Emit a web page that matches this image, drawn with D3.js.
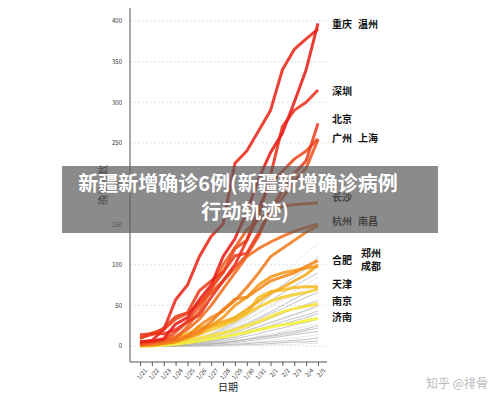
<!DOCTYPE html><html><head><meta charset="utf-8"><script src="https://cdn.jsdelivr.net/npm/d3@7"></script>
<style>body{margin:0;background:#fff}text{font-family:"Noto Sans CJK SC",sans-serif}</style></head><body><svg id="c" width="500" height="401"></svg><script>
const dates=["1/21","1/22","1/23","1/24","1/25","1/26","1/27","1/28","1/29","1/30","1/31","2/1","2/2","2/3","2/4","2/5"];
const yTicks=[0,50,100,150,200,250,300,350,400];
const colored=[
[5,6,9,27,35,57,75,110,132,165,206,238,262,300,340,397],
[5,7,20,57,75,110,135,150,225,240,265,290,340,365,378,390],
[14,15,15,20,30,38,60,80,100,130,160,210,270,290,300,315],
[10,14,22,36,41,68,80,91,111,114,139,168,191,212,228,274],
[3,5,8,17,30,50,71,90,120,130,170,200,215,230,240,255],
[9,16,20,33,40,53,66,80,96,112,135,169,182,203,219,254],
[1,4,6,9,24,43,69,100,121,143,156,166,172,174,175,176],
[2,4,6,12,20,33,50,70,90,110,120,128,135,141,146,150],
[2,3,4,7,12,18,30,45,56,72,90,110,120,130,140,148],
[1,1,3,6,12,25,35,43,58,60,70,80,85,90,98,105],
[1,2,3,5,10,15,25,35,50,60,75,85,90,93,96,98],
[3,5,8,10,15,20,25,30,35,45,55,65,72,80,88,100],
[1,3,5,10,14,23,24,27,31,40,60,67,69,72,73,73],
[0,1,3,5,9,15,20,25,35,40,48,55,60,63,66,70],
[0,1,2,4,6,10,13,16,20,25,30,36,42,46,49,52],
[0,0,1,2,4,6,9,11,14,17,20,23,26,28,31,34]];
const gray=[
[0,1,2,5,8,12,18,25,35,45,60,75,90,100,115,125],
[0,0,1,3,6,10,15,22,30,40,50,62,75,85,95,110],
[0,1,2,4,6,9,14,20,28,36,46,56,65,74,82,90],
[0,0,1,2,4,8,12,18,24,32,40,48,56,64,70,78],
[0,0,1,2,3,6,10,14,20,26,33,40,46,53,60,66],
[0,0,0,1,2,5,8,12,17,22,28,34,40,46,51,56],
[0,0,1,1,2,4,7,10,14,18,23,28,33,38,43,48],
[0,0,0,1,2,3,5,8,11,15,19,23,27,31,35,40],
[0,0,0,1,1,2,4,6,9,12,15,19,22,26,29,33],
[0,0,0,0,1,2,3,5,7,9,12,15,18,21,24,28],
[0,0,0,0,1,1,2,4,6,8,10,12,14,16,19,22],
[0,0,0,0,0,1,2,3,4,6,8,10,12,14,16,18],
[0,0,0,0,0,1,1,2,3,4,5,7,9,10,12,14],
[0,0,0,0,0,0,1,1,2,3,4,5,6,7,8,10],
[0,0,0,0,0,0,0,1,1,2,2,3,4,5,5,6],
[0,0,0,0,0,0,0,0,1,1,1,2,2,2,3,3],
[0,0,1,2,4,7,11,16,22,28,35,42,50,58,65,72],
[0,0,0,1,3,5,8,11,15,19,24,29,34,39,44,50],
[0,0,1,3,5,9,14,19,26,33,41,50,58,67,76,85],
[0,0,0,1,2,4,6,9,13,17,21,25,30,34,38,43],
[0,0,0,0,1,2,3,4,6,8,11,13,16,18,21,25]];
const labels=[["重庆",332,25],["温州",358,25],["深圳",332,92],["北京",332,120],["广州",332,139],["上海",358,139],["长沙",332,198],["杭州",332,222],["南昌",358,222],["合肥",332,261],["郑州",361,254],["成都",361,267],["天津",332,285],["南京",332,302],["济南",332,318]];
const svg=d3.select("#c");
const x=d3.scalePoint().domain(dates).range([140,318]);
const y=d3.scaleLinear().domain([0,400]).range([346,21]);
const g=svg.append("g");
yTicks.forEach(t=>g.append("line").attr("x1",130).attr("x2",327).attr("y1",y(t)).attr("y2",y(t)).attr("stroke","#ccc").attr("stroke-dasharray","2,2").attr("stroke-width",0.6));
const line=d3.line().x((d,i)=>x(dates[i])).y(d=>y(d));
gray.forEach((s,i)=>g.append("path").attr("d",line(s)).attr("fill","none").attr("stroke",i%3==0?"#ddd":"#aaa").attr("stroke-opacity",0.7).attr("stroke-width",1));
const col=d3.scaleLinear().domain([0,5,10,15]).range(["#e81e18","#ee5522","#f5981a","#f7f23a"]);
colored.slice().reverse().forEach((s,j)=>{const i=colored.length-1-j;g.append("path").attr("d",line(s)).attr("fill","none").attr("stroke",col(i)).attr("stroke-opacity",0.88).attr("stroke-width",3).attr("stroke-linejoin","round");});
const ya=svg.append("g").attr("transform","translate(130,0)").call(d3.axisLeft(y).tickValues(yTicks).tickSize(0).tickPadding(8));
ya.select(".domain").attr("d","M0,8V362");
const xa=svg.append("g").attr("transform","translate(0,362)").call(d3.axisBottom(x).tickSize(4));
xa.select(".domain").attr("d","M130,0H327");
svg.selectAll(".tick text").attr("font-size",6).attr("fill","#333");
svg.selectAll(".domain,.tick line").attr("stroke","#555");
xa.selectAll("text").attr("transform","rotate(-50)").attr("text-anchor","end").attr("dx","-2").attr("dy","4");
svg.append("text").attr("x",228).attr("y",391).attr("text-anchor","middle").attr("font-size",10).attr("fill","#222").text("日期");
svg.append("text").attr("transform","translate(107,185) rotate(-90)").attr("text-anchor","middle").attr("font-size",10).attr("fill","#222").text("确诊人数");
labels.forEach(l=>svg.append("text").attr("x",l[1]).attr("y",l[2]).attr("font-size",10).attr("font-weight","bold").attr("fill","#111").attr("dominant-baseline","middle").text(l[0]));
svg.append("rect").attr("x",62).attr("y",166).attr("width",376).attr("height",67).attr("fill","rgba(90,90,90,0.7)");
svg.append("text").attr("x",238).attr("y",191).attr("text-anchor","middle").attr("font-size",20).attr("font-weight","bold").attr("fill","#fff").text("新疆新增确诊6例(新疆新增确诊病例");
svg.append("text").attr("x",245).attr("y",219).attr("text-anchor","middle").attr("font-size",20).attr("font-weight","bold").attr("fill","#fff").text("行动轨迹)");
svg.append("text").attr("x",488).attr("y",388).attr("text-anchor","end").attr("font-size",12).attr("fill","#bbb").text("知乎 @排骨");
</script></body></html>
